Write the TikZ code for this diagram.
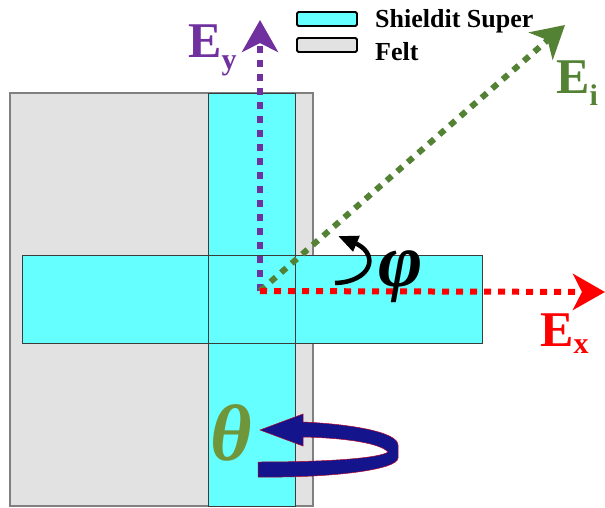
\documentclass[tikz,border=0pt]{standalone}
\usepackage{fontspec}
\setmainfont{Liberation Serif}
\usetikzlibrary{arrows.meta}
\definecolor{cyanfill}{RGB}{102,255,255}
\definecolor{feltfill}{RGB}{226,226,226}
\definecolor{feltedge}{RGB}{128,128,128}
\definecolor{stripedge}{RGB}{60,60,60}
\definecolor{ypurple}{RGB}{112,48,160}
\definecolor{igreen}{RGB}{84,130,53}
\definecolor{thgreen}{RGB}{112,150,60}
\definecolor{navyband}{RGB}{20,20,140}
\tikzset{
  feltbox/.style={fill=feltfill,draw=feltedge,line width=1.2pt},
  stripbox/.style={fill=cyanfill,draw=stripedge,line width=0.9pt},
  vecline/.style={line width=6pt,dash pattern=on 7pt off 7pt},
  bigtip/.style={-{Stealth[length=32pt,width=36pt,inset=9pt]}},
  elabel/.style={anchor=base west,font=\fontsize{50}{50}\selectfont\bfseries,inner sep=0pt},
  legtext/.style={anchor=base west,font=\fontsize{26}{26}\selectfont\bfseries,inner sep=0pt},
  legbox/.style={draw=black,line width=1.8pt,rounded corners=1.5pt}
}
\newcommand{\mysub}[2]{\raisebox{-#2pt}{\fontsize{30}{30}\selectfont #1}}
\begin{document}
\begin{tikzpicture}[x=1pt,y=-1pt]
\useasboundingbox (0,0) rectangle (605,508);
% felt square
\path[feltbox] (10,93) rectangle (313,506);
% strips
\path[stripbox] (208,93) rectangle (295,506);
\path[stripbox] (22,255) rectangle (482,343);
\draw[stripedge,line width=0.9pt] (208,255) -- (208,343) (295,255) -- (295,343);
% legend
\node[legbox,fill=cyanfill,minimum width=60pt,minimum height=14pt,inner sep=0pt] (legS) at (327,19) {};
\node[legbox,fill=feltfill,minimum width=60pt,minimum height=14pt,inner sep=0pt] (legF) at (327,45) {};
\node[legtext] (legSt) at (375,28) {Shieldit Super};
\node[legtext] (legFt) at (375,61) {Felt};
% vectors
\coordinate (O) at (260,291);
\coordinate (eyTip) at (260,20);
\coordinate (exTip) at (605,292);
\coordinate (eiTip) at (565,25);
\draw[vecline,ypurple,bigtip] (O) -- (eyTip);
\draw[vecline,igreen,bigtip] (O) -- (eiTip);
\draw[vecline,red,bigtip] (O) -- (exTip);
% labels
\node[elabel,text=ypurple] (Ey) at (188,58) {E\mysub{y}{12}};
\node[elabel,text=red] (Ex) at (540,346) {E\mysub{x}{7}};
\node[elabel,text=igreen] (Ei) at (556,94) {E\mysub{i}{12}};
% phi arrow
\draw[black,line width=4.5pt,-{Triangle[length=20pt,width=16pt]}] (335,283) .. controls (370,282) and (380,256) .. (357,244) -- (338,236);
\node[font=\fontsize{76}{76}\selectfont\bfseries\itshape,inner sep=0pt] (phi) at (401,277) {φ};
% theta arrow
\path[fill=navyband,draw=red!70!navyband,line width=0.5pt]
  (258,462) -- (258,477) .. controls (330,478) and (398,470) .. (398,458)
  -- (398,445) .. controls (398,432) and (350,424) .. (303,422)
  -- (303,414) -- (260,430) -- (303,446) -- (303,437)
  .. controls (345,438) and (380,443) .. (388,452)
  .. controls (380,458) and (330,462) .. (258,462) -- cycle;
\node[font=\fontsize{80}{80}\selectfont\bfseries\itshape,text=thgreen,inner sep=0pt] (theta) at (231,433) {θ};
\end{tikzpicture}
\end{document}
